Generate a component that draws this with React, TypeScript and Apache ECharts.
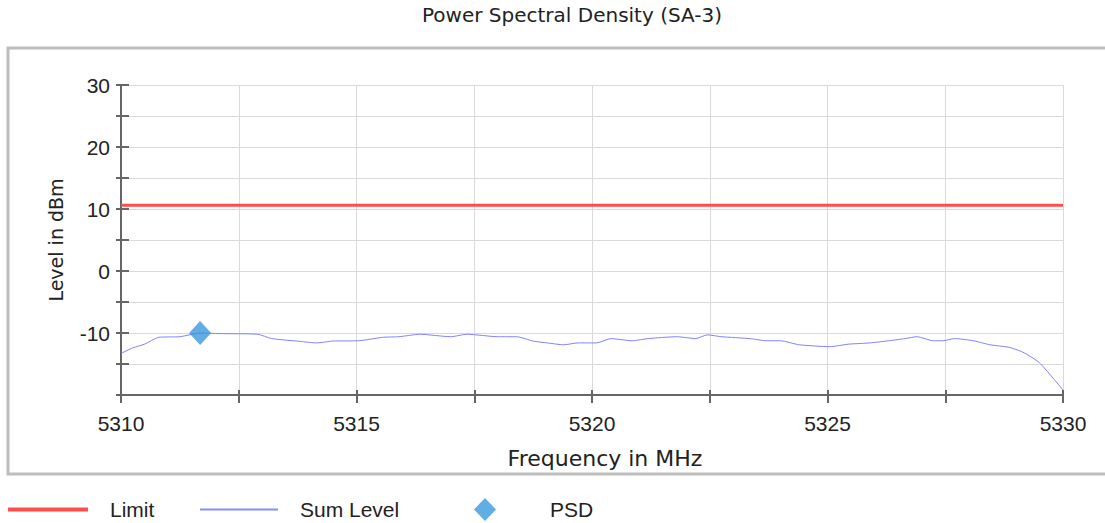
import React, { useEffect, useRef } from "react";
import * as echarts from "echarts";

const titleText = "Power Spectral Density (SA-3)";
const xAxisName = "Frequency in MHz";
const yAxisName = "Level in dBm";

const freqs = [5310, 5310.25, 5310.5, 5310.8, 5311.25, 5311.68, 5312.1, 5312.9, 5313.2, 5313.8, 5314.15, 5314.5, 5315.05, 5315.55, 5315.9, 5316.35, 5317.0, 5317.35, 5318.0, 5318.4, 5318.75, 5319.05, 5319.4, 5319.7, 5320.1, 5320.4, 5320.85, 5321.2, 5321.8, 5322.2, 5322.45, 5322.75, 5323.35, 5323.7, 5324.0, 5324.4, 5325.05, 5325.45, 5325.9, 5326.3, 5326.65, 5326.9, 5327.25, 5327.45, 5327.7, 5328.1, 5328.45, 5328.85, 5329.15, 5329.5, 5330];
const sumLevel = [-13.3, -12.4, -11.8, -10.7, -10.6, -10.0, -10.1, -10.2, -10.9, -11.35, -11.6, -11.3, -11.25, -10.7, -10.6, -10.2, -10.6, -10.2, -10.6, -10.6, -11.3, -11.6, -11.9, -11.6, -11.6, -10.9, -11.25, -10.9, -10.6, -10.9, -10.3, -10.6, -10.9, -11.25, -11.25, -11.9, -12.2, -11.8, -11.6, -11.25, -10.9, -10.6, -11.25, -11.25, -10.9, -11.25, -11.9, -12.3, -13.1, -14.8, -19.2];

const limitFreqs = [5310, 5330];
const limitLevel = [10.6, 10.6];

const psdFreq = [5311.68];
const psdLevel = [-10.0];

const xMin = 5310, xMax = 5330, xStep = 2.5;
const yMin = -20, yMax = 30, yStep = 5;

export default function App() {
  const ref = useRef<HTMLDivElement>(null);
  useEffect(() => {
    if (!ref.current) return;
    const chart = echarts.init(ref.current, null, { renderer: "svg" });
    const axisColor = "#666";
    const textColor = "#222";
    const tickFont = "Liberation Sans";
    const option: any = {
      animation: false,
      backgroundColor: "#fff",
      title: {
        text: titleText,
        left: 422,
        top: 5,
        padding: 0,
        textStyle: { fontFamily: "DejaVu Sans", fontSize: 20, fontWeight: "normal", color: textColor },
      },
      graphic: [
        {
          type: "rect",
          z: -10,
          shape: { x: 8, y: 48, width: 1110, height: 426 },
          style: { fill: "none", stroke: "#bdbdbd", lineWidth: 3 },
          silent: true,
        },
      ],
      grid: { left: 121, right: 42, top: 85, bottom: 128, containLabel: false },
      legend: [
        {
          data: [{ name: "Limit", icon: "rect" }], left: 8, top: 499, padding: 0, itemWidth: 80, itemHeight: 4,
          textStyle: { fontFamily: tickFont, fontSize: 21, color: textColor, padding: [0, 0, 0, 17] },
        },
        {
          data: [{ name: "Sum Level", icon: "rect" }], left: 200, top: 499, padding: 0, itemWidth: 78, itemHeight: 2,
          textStyle: { fontFamily: tickFont, fontSize: 21, color: textColor, padding: [0, 0, 0, 17] },
        },
        {
          data: [{ name: "PSD", icon: "diamond" }], left: 474, top: 498, padding: 0, itemWidth: 22, itemHeight: 23,
          textStyle: { fontFamily: tickFont, fontSize: 21, color: textColor, padding: [0, 0, 0, 49] },
        },
      ],
      xAxis: [
        {
          type: "value", min: xMin, max: xMax, interval: xStep,
          name: xAxisName, nameLocation: "middle", nameGap: 52,
          nameTextStyle: { fontFamily: "DejaVu Sans", fontSize: 22, color: textColor, padding: [0, 0, 0, 26] },
          axisLine: { show: true, onZero: false, lineStyle: { color: axisColor, width: 2 } },
          axisTick: { show: true, length: 8, lineStyle: { color: axisColor, width: 2 } },
          axisLabel: {
            margin: 18, fontFamily: tickFont, fontSize: 21, color: textColor,
            formatter: (v: number) => (v % 5 === 0 ? String(v) : ""),
          },
          splitLine: { show: true, lineStyle: { color: "#dadada", width: 1 } },
        },
        {
          type: "value", min: xMin, max: xMax, interval: xStep, position: "bottom",
          axisLine: { show: false, onZero: false }, axisLabel: { show: false }, splitLine: { show: false },
          axisTick: { show: true, inside: true, length: 5, lineStyle: { color: axisColor, width: 2 } },
        },
      ],
      yAxis: [
        {
          type: "value", min: yMin, max: yMax, interval: yStep,
          name: yAxisName, nameLocation: "middle", nameGap: 56,
          nameTextStyle: { fontFamily: "DejaVu Sans", fontSize: 19, color: textColor },
          axisLine: { show: true, onZero: false, lineStyle: { color: axisColor, width: 2 } },
          axisTick: { show: true, length: 5, lineStyle: { color: axisColor, width: 2 } },
          axisLabel: {
            margin: 11, fontFamily: tickFont, fontSize: 21, color: textColor,
            formatter: (v: number) => (v % 10 === 0 && v !== yMin ? String(v) : ""),
          },
          splitLine: { show: true, lineStyle: { color: "#dadada", width: 1 } },
        },
        {
          type: "value", min: yMin, max: yMax, interval: yStep, position: "left",
          axisLine: { show: false, onZero: false }, axisLabel: { show: false }, splitLine: { show: false },
          axisTick: { show: true, inside: true, length: 8, lineStyle: { color: axisColor, width: 2 } },
        },
      ],
      series: [
        {
          name: "Limit", type: "line", xAxisIndex: 0, yAxisIndex: 0,
          data: limitFreqs.map((f, i) => [f, limitLevel[i]]),
          symbol: "none", color: "#ff4d4d",
          lineStyle: { color: "#ff4d4d", width: 3 },
          z: 3,
        },
        {
          name: "Sum Level", type: "line", xAxisIndex: 0, yAxisIndex: 0,
          data: freqs.map((f, i) => [f, sumLevel[i]]),
          symbol: "none", smooth: 0.2, color: "#8a8aff",
          lineStyle: { color: "#8080ff", width: 1 },
          z: 3,
        },
        {
          name: "PSD", type: "scatter", xAxisIndex: 0, yAxisIndex: 0,
          data: psdFreq.map((f, i) => [f, psdLevel[i]]),
          symbol: "diamond", symbolSize: [22, 24],
          itemStyle: { color: "#3a98dd" },
          z: 4,
        },
      ],
    };
    chart.setOption(option);
    return () => chart.dispose();
  }, []);
  return (
    <div
      ref={ref}
      style={{ position: "absolute", left: 0, top: 0, width: 1105, height: 523 }}
    />
  );
}
